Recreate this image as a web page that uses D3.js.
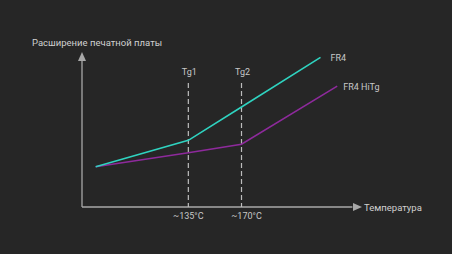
<!DOCTYPE html>
<meta charset="utf-8">
<script src="https://d3js.org/d3.v7.min.js"></script>
<style>
body { margin: 0; background: #262626; }
text { font-family: Roboto, "Noto Sans", sans-serif; font-size: 9px; }
</style>
<div id="chart"></div>
<script>
// temperatures (deg C) of the knee points, same for both boards
const temps = [74, 135, 170];
const fr4End = 222, hitgEnd = 233;
// expansion, arbitrary units 0..100
const fr4 = [26, 43, 64.5, 96.5];
const hitg = [26, 35, 40.5, 78];
const tgLabels = ["Tg1", "Tg2"];
const tickLabels = ["~135°C", "~170°C"];
const yTitle = "Расширение печатной платы";
const xTitle = "Температура";

const W = 452, H = 254;
const svg = d3.select("#chart").append("svg")
    .attr("width", W).attr("height", H);

const x = d3.scaleLinear().domain([65, 248]).range([82, 360]);
const y = d3.scaleLinear().domain([0, 100]).range([207, 52]);

const axisColor = "#a8a8a8";

// axes with arrows
svg.append("line")
    .attr("x1", x(65)).attr("x2", x(65))
    .attr("y1", y(0)).attr("y2", y(96))
    .attr("stroke", axisColor).attr("stroke-width", 1.3);
svg.append("path")
    .attr("d", `M${x(65)},${y(100)} l-4,9 l8,0 z`)
    .attr("fill", axisColor);
svg.append("line")
    .attr("x1", x(65)).attr("x2", x(243))
    .attr("y1", y(0)).attr("y2", y(0))
    .attr("stroke", axisColor).attr("stroke-width", 1.3);
svg.append("path")
    .attr("d", `M${x(248) + 2},${y(0)} l-9,-4 l0,8 z`)
    .attr("fill", axisColor);

svg.append("text")
    .attr("x", 32).attr("y", 46)
    .attr("fill", "#d0d0d0").style("font-size", "9.5px")
    .text(yTitle);
svg.append("text")
    .attr("x", x(248) + 4).attr("y", y(0) + 4)
    .attr("fill", "#d0d0d0").style("font-size", "9.5px")
    .text(xTitle);

// Tg markers
const tg = [temps[1], temps[2]];
svg.selectAll(".tg")
  .data(tg)
  .join("line")
    .attr("x1", d => x(d)).attr("x2", d => x(d))
    .attr("y1", y(80)).attr("y2", y(0))
    .attr("stroke", "#bdbdbd").attr("stroke-width", 1.2)
    .attr("stroke-dasharray", "5,3");
svg.selectAll(".tgl")
  .data(tg)
  .join("text")
    .attr("x", d => x(d) + 1).attr("y", y(85))
    .attr("text-anchor", "middle")
    .attr("fill", "#c8c8c8")
    .text((d, i) => tgLabels[i]);
svg.selectAll(".tick-l")
  .data(tg)
  .join("text")
    .attr("x", (d, i) => x(d) + i * 5).attr("y", y(0) + 12)
    .attr("text-anchor", "middle")
    .attr("fill", "#c8c8c8")
    .text((d, i) => tickLabels[i]);

// series
const series = [
  { name: "FR4", color: "#2fd3c0", t: temps.concat(fr4End), v: fr4, dx: 10 },
  { name: "FR4 HiTg", color: "#8e2a9c", t: temps.concat(hitgEnd), v: hitg, dx: 6 }
];
const line = d3.line().x(d => x(d[0])).y(d => y(d[1]));
svg.selectAll(".series")
  .data(series.slice().reverse())
  .join("path")
    .attr("d", s => line(s.t.map((t, i) => [t, s.v[i]])))
    .attr("fill", "none")
    .attr("stroke", s => s.color)
    .attr("stroke-width", 1.6);
svg.selectAll(".slabel")
  .data(series)
  .join("text")
    .attr("x", s => x(s.t[3]) + s.dx).attr("y", s => y(s.v[3]) + 4)
    .attr("fill", "#c8c8c8")
    .text(s => s.name);
</script>
